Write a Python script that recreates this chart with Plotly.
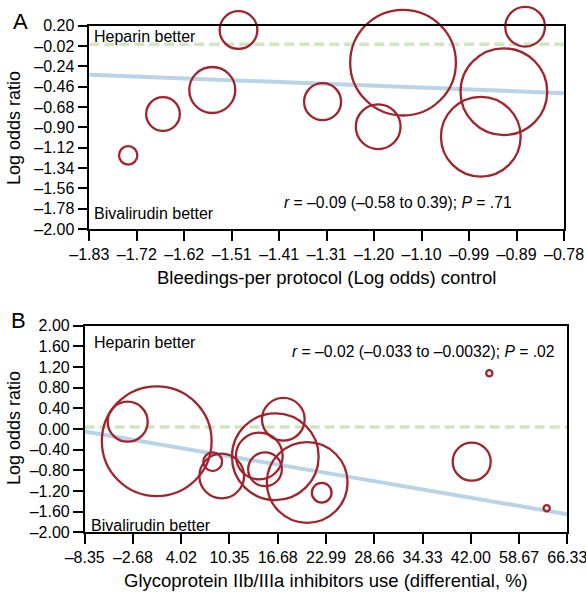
import numpy as np
import plotly.graph_objects as go

W, H = 586, 592

# ---------------- Panel A data ----------------
a_x = [-1.744, -1.667, -1.558, -1.500, -1.314, -1.191, -1.136, -0.964, -0.913, -0.866]
a_y = [-1.203, -0.756, -0.496, 0.153, -0.622, -0.893, -0.200, -1.001, -0.514, 0.189]
a_weight = [20.7, 36, 48.3, 40, 39.3, 47, 108, 82, 89, 42]
a_fit_x = [-1.83, -0.78]
a_fit_y = [-0.33, -0.53]
a_xticks = [-1.83, -1.725, -1.62, -1.515, -1.41, -1.305, -1.20, -1.095, -0.99, -0.885, -0.78]
a_xticktext = ["–1.83", "–1.72", "–1.62", "–1.51", "–1.41", "–1.31", "–1.20", "–1.10", "–0.99", "–0.89", "–0.78"]
a_yticks = [0.20, -0.02, -0.24, -0.46, -0.68, -0.90, -1.12, -1.34, -1.56, -1.78, -2.00]

# ---------------- Panel B data ----------------
b_x = [-3.30, 0.62, 8.15, 9.33, 17.41, 16.36, 14.26, 15.01, 20.53, 22.43, 42.32, 48.40, 63.06]
b_y = [0.141, -0.236, -0.633, -0.910, 0.188, -0.536, -0.523, -0.780, -1.036, -1.233, -0.633, 1.078, -1.535]
b_weight = [42.3, 112, 21, 47, 45, 89, 49, 36, 83, 22, 40.3, 8.5, 8.5]
b_fit_x = [-8.35, 66.33]
b_fit_y = [-0.05, -1.65]
b_xtick_labels_vals = [-8.35, -2.68, 4.02, 10.35, 16.68, 22.99, 28.66, 34.33, 42.00, 58.67, 66.33]
b_xticktext = ["–8.35", "–2.68", "4.02", "10.35", "16.68", "22.99", "28.66", "34.33", "42.00", "58.67", "66.33"]
b_yticks = [2.0, 1.6, 1.2, 0.8, 0.4, 0.0, -0.4, -0.8, -1.2, -1.6, -2.0]


def fmt(v):
    s = f"{abs(v):.2f}"
    return ("–" + s) if v < 0 else s


# broken (piecewise) axis in panel B: map values to evenly spaced tick positions
b_pos = list(range(len(b_xtick_labels_vals)))


def bmap(vals):
    return np.interp(vals, b_xtick_labels_vals, b_pos)


RED = "#a3232c"
BLUE = "#b9d4e9"
GREEN = "#cfe6c1"
FONT = "Liberation Sans, Arial, Helvetica, sans-serif"
LW = 2.3

fig = go.Figure()

# Panel A
fig.add_trace(go.Scatter(x=a_fit_x, y=[0, 0], mode="lines",
                         line=dict(color=GREEN, width=3.5, dash="10px,5px"),
                         xaxis="x", yaxis="y", hoverinfo="skip"))
fig.add_trace(go.Scatter(x=a_fit_x, y=a_fit_y, mode="lines",
                         line=dict(color=BLUE, width=4),
                         xaxis="x", yaxis="y", hoverinfo="skip"))
fig.add_trace(go.Scatter(x=a_x, y=a_y, mode="markers", cliponaxis=False,
                         marker=dict(symbol="circle-open", color=RED, opacity=1,
                                     size=np.array(a_weight) - LW,
                                     line=dict(width=LW, color=RED)),
                         xaxis="x", yaxis="y"))

# Panel B
bx_edges = bmap(b_fit_x)
fig.add_trace(go.Scatter(x=bx_edges, y=[0.04, 0.04], mode="lines",
                         line=dict(color=GREEN, width=3.5, dash="10px,5px"),
                         xaxis="x2", yaxis="y2", hoverinfo="skip"))
fig.add_trace(go.Scatter(x=bx_edges, y=b_fit_y, mode="lines",
                         line=dict(color=BLUE, width=4),
                         xaxis="x2", yaxis="y2", hoverinfo="skip"))
fig.add_trace(go.Scatter(x=bmap(b_x), y=b_y, mode="markers", cliponaxis=False,
                         marker=dict(symbol="circle-open", color=RED, opacity=1,
                                     size=np.array(b_weight) - LW,
                                     line=dict(width=LW, color=RED)),
                         xaxis="x2", yaxis="y2"))


def px(x):
    return x / W


def py(y):
    return 1 - y / H


axis_common = dict(showline=True, linecolor="black", linewidth=1.6, mirror=True,
                   ticks="outside", ticklen=10, tickwidth=1.5, tickcolor="black",
                   showgrid=False, zeroline=False, automargin=False,
                   ticklabeloverflow="allow",
                   tickfont=dict(family=FONT, size=16, color="black"))

fig.update_layout(
    width=W, height=H,
    margin=dict(l=0, r=0, t=0, b=0, pad=0, autoexpand=False),
    paper_bgcolor="white", plot_bgcolor="white",
    showlegend=False,
    font=dict(family=FONT, color="black"),
    xaxis=dict(domain=[px(89.3), px(564)], range=[-1.83, -0.78], anchor="y",
               tickvals=a_xticks, ticktext=a_xticktext, **axis_common),
    yaxis=dict(domain=[py(229), py(25.7)], range=[-2.0, 0.20], anchor="x",
               tickvals=a_yticks, ticktext=[fmt(v) for v in a_yticks], **axis_common),
    xaxis2=dict(domain=[px(84.7), px(567.3)], range=[0, 10], anchor="y2",
                tickvals=b_pos, ticktext=b_xticktext, **axis_common),
    yaxis2=dict(domain=[py(532.3), py(325.7)], range=[-2.0, 2.0], anchor="x2",
                tickvals=b_yticks, ticktext=[fmt(v) for v in b_yticks], **axis_common),
)

ann = []


def add_text(text, x, y, size, xanchor="left", textangle=0):
    ann.append(dict(text=text, x=px(x), y=py(y), xref="paper", yref="paper",
                    xanchor=xanchor, yanchor="middle", showarrow=False,
                    textangle=textangle,
                    font=dict(family=FONT, size=size, color="black")))


# Panel labels
add_text("A", 20, 21, 22, xanchor="center")
add_text("B", 19, 320, 22, xanchor="center")

# Panel A texts
add_text("Heparin better", 92, 36, 16)
add_text("Bivalirudin better", 92, 213, 16)
add_text("<i>r</i> = –0.09 (–0.58 to 0.39); <i>P</i> = .71", 282, 202, 15.7)
add_text("Bleedings-per protocol (Log odds) control", 326.5, 277, 18.5, xanchor="center")
add_text("Log odds ratio", 14, 128, 18, xanchor="center", textangle=-90)

# Panel B texts
add_text("Heparin better", 92, 342, 16)
add_text("Bivalirudin better", 89, 525, 16)
add_text("<i>r</i> = –0.02 (–0.033 to –0.0032); <i>P</i> = .02", 290, 351, 15.7)
add_text("Glycoprotein IIb/IIIa inhibitors use (differential, %)", 326, 580, 18.5, xanchor="center")
add_text("Log odds ratio", 14, 428, 18, xanchor="center", textangle=-90)

fig.update_layout(annotations=ann)

fig.write_html("out.html")
